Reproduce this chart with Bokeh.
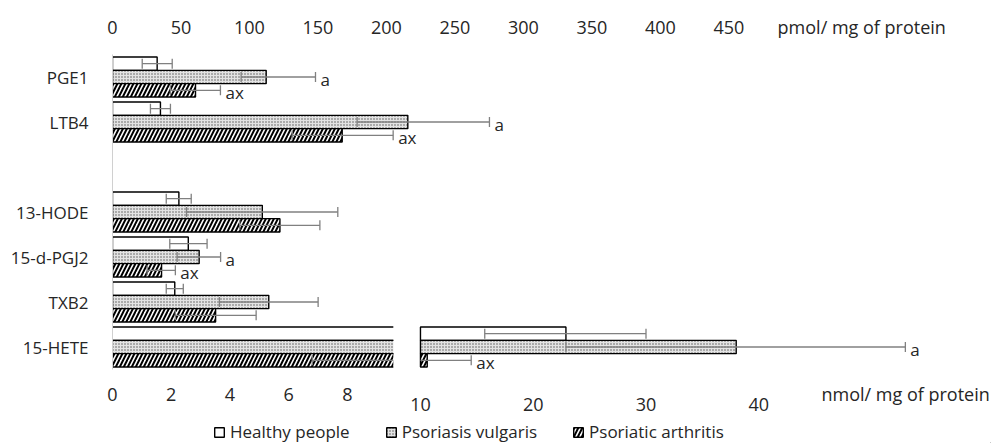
import numpy as np
from bokeh.plotting import figure
from bokeh.layouts import column
from bokeh.models import (Range1d, FactorRange, LinearAxis, FixedTicker, ColumnDataSource,
                          Legend, LegendItem)
from bokeh.transform import dodge
from bokeh.core.properties import value
from bokeh.embed import file_html
from bokeh.resources import INLINE

# ---------------- data ----------------
slots = ["PGE1", "LTB4", " ", "13-HODE", "15-d-PGJ2", "TXB2", "15-HETE"]
series = ["Healthy people", "Psoriasis vulgaris", "Psoriatic arthritis"]

# pmol / mg of protein (upper axis)
pmol_cats = ["PGE1", "LTB4"]
pmol_healthy = [32.6, 35.0]
pmol_healthy_lo = [21.7, 27.7]
pmol_healthy_hi = [43.6, 42.3]
pmol_pv = [112.2, 215.6]
pmol_pv_lo = [93.9, 178.6]
pmol_pv_hi = [148.2, 275.2]
pmol_pa = [60.6, 167.7]
pmol_pa_lo = [42.3, 131.2]
pmol_pa_hi = [78.8, 204.9]
sig_pmol_healthy = ["", ""]
sig_pmol_pv = ["a", "a"]
sig_pmol_pa = ["ax", "ax"]

# nmol / mg of protein (lower, broken axis)
nmol_cats = ["13-HODE", "15-d-PGJ2", "TXB2", "15-HETE"]
nmol_healthy = [2.26, 2.58, 2.12, 22.9]
nmol_healthy_lo = [1.83, 1.95, 1.83, 15.7]
nmol_healthy_hi = [2.68, 3.22, 2.41, 30.0]
nmol_pv = [5.10, 2.95, 5.32, 38.0]
nmol_pv_lo = [2.52, 2.20, 3.64, 22.9]
nmol_pv_hi = [7.67, 3.68, 7.00, 53.0]
nmol_pa = [5.70, 1.67, 3.51, 10.6]
nmol_pa_lo = [4.33, 1.18, 2.14, 6.8]
nmol_pa_hi = [7.06, 2.14, 4.89, 14.5]
sig_nmol_healthy = ["", "", "", ""]
sig_nmol_pv = ["", "a", "", "a"]
sig_nmol_pa = ["", "ax", "", "ax"]

pmol_ticks = [0, 50, 100, 150, 200, 250, 300, 350, 400, 450]
nmol_ticks_low = [0, 2, 4, 6, 8]
nmol_ticks_high = [10, 20, 30, 40]
pmol_unit = "pmol/ mg of protein"
nmol_unit = "nmol/ mg of protein"
BREAK_LOW = 9.56    # lower nmol segment is cut here
BREAK_HIGH = 10     # upper nmol segment starts here
PMOL_UNIT_AT = 547  # axis position of the unit text (pmol scale)
NMOL_UNIT_AT = 27   # axis position of the unit text (lower nmol scale)

# ---------------- style ----------------
FONT = "Open Sans"
FS = "17px"
FS_AX = "18px"
TXT = "#262626"
ERR = "#808080"
BH = 0.296
OFF = [BH, 0.0, -BH]
STYLES = [
    dict(fill_color="white"),
    dict(fill_color="#e3e3e3", hatch_pattern="dot", hatch_scale=3, hatch_color="#555555", hatch_weight=1),
    dict(fill_color="white", hatch_pattern="right_diagonal_line", hatch_scale=8, hatch_color="black",
         hatch_weight=2.0),
]
EDGE = dict(line_color="black", line_width=1.4)

MAIN_H = 419
LEG_H = 443 - MAIN_H

p = figure(width=1000, height=MAIN_H, output_backend="svg", toolbar_location=None,
           x_range=Range1d(0, 29.89), y_range=FactorRange(factors=slots[::-1]),
           min_border_left=112, min_border_right=10, min_border_top=54, min_border_bottom=MAIN_H - 54 - 315,
           x_axis_location=None, y_axis_location="left")
p.extra_x_ranges = {"pmol": Range1d(0, 641.0), "high": Range1d(-17.31, 60.55)}
p.xgrid.visible = False
p.ygrid.visible = False
p.outline_line_color = None
p.background_fill_color = "white"
p.border_fill_color = "white"

yax = p.yaxis[0]
yax.axis_line_color = "#d0d0d0"
yax.axis_line_width = 1
yax.major_tick_line_color = None
yax.minor_tick_line_color = None
yax.major_label_standoff = 18
yax.major_label_text_font = FONT
yax.major_label_text_font_size = FS
yax.major_label_text_color = TXT


def ydodge(off):
    return dodge("cat", off, range=p.y_range)


def errbars(cats, lo, hi, lo_cap, hi_cap, off, rname):
    if not cats:
        return
    src = ColumnDataSource(dict(cat=cats, lo=lo, hi=hi))
    p.segment(x0="lo", x1="hi", y0=ydodge(off), y1=ydodge(off), line_color=ERR, line_width=1.3,
              source=src, x_range_name=rname)
    cx, cc = [], []
    for c, a, b, la, hb in zip(cats, lo, hi, lo_cap, hi_cap):
        if la:
            cx.append(a); cc.append(c)
        if hb:
            cx.append(b); cc.append(c)
    if cx:
        csrc = ColumnDataSource(dict(cat=cc, x=cx))
        p.scatter(x="x", y=ydodge(off), marker="dash", size=10, angle=np.pi / 2, line_color=ERR,
                  line_width=1.3, source=csrc, x_range_name=rname)


def siglabels(cats, xs, texts, off, rname):
    keep = [(c, x, t) for c, x, t in zip(cats, xs, texts) if t]
    if not keep:
        return
    src = ColumnDataSource(dict(cat=[k[0] for k in keep], x=[k[1] for k in keep], t=[k[2] for k in keep]))
    p.text(x="x", y=ydodge(off), text="t", source=src, x_range_name=rname, x_offset=5, y_offset=2,
           text_font=value(FONT), text_font_size=FS, text_color=TXT, text_baseline="middle")


pmol_sets = [(pmol_healthy, pmol_healthy_lo, pmol_healthy_hi, sig_pmol_healthy),
             (pmol_pv, pmol_pv_lo, pmol_pv_hi, sig_pmol_pv),
             (pmol_pa, pmol_pa_lo, pmol_pa_hi, sig_pmol_pa)]
nmol_sets = [(nmol_healthy, nmol_healthy_lo, nmol_healthy_hi, sig_nmol_healthy),
             (nmol_pv, nmol_pv_lo, nmol_pv_hi, sig_nmol_pv),
             (nmol_pa, nmol_pa_lo, nmol_pa_hi, sig_nmol_pa)]

for k in range(3):
    off = OFF[k]
    st = STYLES[k]
    # ---- pmol bars
    vals, lo, hi, sig = pmol_sets[k]
    src = ColumnDataSource(dict(cat=pmol_cats, v=vals))
    p.hbar(y=ydodge(off), left=0, right="v", height=BH, source=src, x_range_name="pmol", **st, **EDGE)
    errbars(pmol_cats, lo, hi, [True] * len(lo), [True] * len(hi), off, "pmol")
    siglabels(pmol_cats, hi, sig, off, "pmol")

    # ---- nmol bars (broken axis)
    vals, lo, hi, sig = nmol_sets[k]
    n_c, n_v, b_c, h_c, h_v = [], [], [], [], []
    for c, v in zip(nmol_cats, vals):
        if v <= BREAK_LOW:
            n_c.append(c); n_v.append(v)
        else:
            b_c.append(c)
            h_c.append(c); h_v.append(v)
    if n_c:
        p.hbar(y=ydodge(off), left=0, right="v", height=BH,
               source=ColumnDataSource(dict(cat=n_c, v=n_v)), **st, **EDGE)
    if b_c:
        bsrc = ColumnDataSource(dict(cat=b_c, v=[BREAK_LOW] * len(b_c), z=[0] * len(b_c)))
        p.hbar(y=ydodge(off), left=0, right="v", height=BH, source=bsrc, line_alpha=0, **st)
        for e in (BH / 2, -BH / 2):
            p.segment(x0="z", x1="v", y0=ydodge(off + e), y1=ydodge(off + e), source=bsrc,
                      line_color="black", line_width=1.4)
    if h_c:
        p.hbar(y=ydodge(off), left=BREAK_HIGH, right="v", height=BH,
               source=ColumnDataSource(dict(cat=h_c, v=h_v)), x_range_name="high", **st, **EDGE)

    # error bars split over the two segments
    lc, ll, lh, llc, lhc = [], [], [], [], []
    hc, hl, hh, hlc, hhc = [], [], [], [], []
    sl_c, sl_x, sl_t, sh_c, sh_x, sh_t = [], [], [], [], [], []
    for c, a, b, t in zip(nmol_cats, lo, hi, sig):
        if a < BREAK_LOW:
            lc.append(c); ll.append(a); lh.append(min(b, BREAK_LOW))
            llc.append(True); lhc.append(b <= BREAK_LOW)
        if b > BREAK_HIGH:
            hc.append(c); hl.append(max(a, BREAK_HIGH)); hh.append(b)
            hlc.append(a >= BREAK_HIGH); hhc.append(True)
        if b <= BREAK_LOW:
            sl_c.append(c); sl_x.append(b); sl_t.append(t)
        else:
            sh_c.append(c); sh_x.append(b); sh_t.append(t)
    errbars(lc, ll, lh, llc, lhc, off, "default")
    errbars(hc, hl, hh, hlc, hhc, off, "high")
    siglabels(sl_c, sl_x, sl_t, off, "default")
    siglabels(sh_c, sh_x, sh_t, off, "high")


# ---------------- axes ----------------
def style_axis(ax, standoff):
    ax.axis_line_color = None
    ax.major_tick_line_color = None
    ax.minor_tick_line_color = None
    ax.major_label_standoff = standoff
    ax.major_label_text_font = FONT
    ax.major_label_text_font_size = FS_AX
    ax.major_label_text_color = TXT


top = LinearAxis(x_range_name="pmol", ticker=FixedTicker(ticks=pmol_ticks + [PMOL_UNIT_AT]),
                 major_label_overrides={PMOL_UNIT_AT: pmol_unit})
style_axis(top, 10)
p.add_layout(top, "above")

bot = LinearAxis(ticker=FixedTicker(ticks=nmol_ticks_low + [NMOL_UNIT_AT]),
                 major_label_overrides={NMOL_UNIT_AT: nmol_unit})
style_axis(bot, 6)
p.add_layout(bot, "below")

bot2 = LinearAxis(x_range_name="high", ticker=FixedTicker(ticks=nmol_ticks_high))
style_axis(bot2, -17)
p.add_layout(bot2, "below")

# ---------------- legend strip ----------------
q = figure(width=1000, height=LEG_H, output_backend="svg", toolbar_location=None,
           x_range=Range1d(0, 1), y_range=Range1d(0, 1), min_border=0,
           x_axis_location=None, y_axis_location=None)
q.xgrid.visible = False
q.ygrid.visible = False
q.outline_line_color = None
q.background_fill_color = "white"
q.border_fill_color = "white"
# swatch glyphs kept far outside the visible strip; only their legend entries show
leg_renderers = [q.hbar(y=[-50], left=[50], right=[60], height=0.5, **st, **EDGE) for st in STYLES]
legend = Legend(items=[LegendItem(label=s, renderers=[r]) for s, r in zip(series, leg_renderers)],
                location=(101, 0), orientation="horizontal", glyph_width=12, glyph_height=12,
                label_standoff=5, spacing=35, padding=0, margin=0, border_line_color=None,
                background_fill_alpha=0, label_text_font=FONT, label_text_font_size=FS,
                label_text_color=TXT, label_height=18)
q.add_layout(legend, "center")

layout = column(p, q, spacing=0)
open("out.html", "w").write(file_html(layout, INLINE))
